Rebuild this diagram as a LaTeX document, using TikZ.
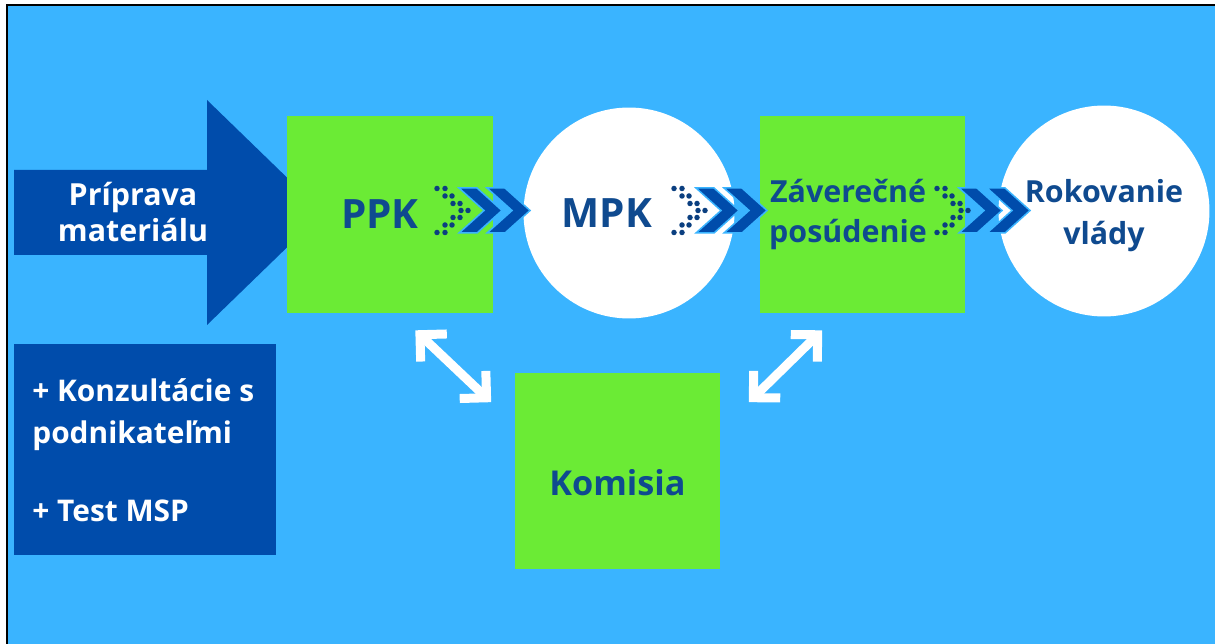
\documentclass[tikz,border=0pt]{standalone}
\usepackage{fontspec}
\setmainfont{Open Sans}
\usetikzlibrary{arrows.meta}
\definecolor{bgblue}{HTML}{3AB4FF}
\definecolor{dkblue}{HTML}{004CAB}
\definecolor{grn}{HTML}{6BEB35}
\definecolor{txtblue}{HTML}{0F4A8F}
\definecolor{dotblue}{HTML}{0B3F80}
\tikzset{
  gbox/.style={rectangle, fill=grn, minimum width=4.12cm, minimum height=3.94cm, inner sep=0pt},
  wcirc/.style={circle, fill=white, minimum size=4.22cm, inner sep=0pt},
  lbl/.style={text=txtblue, align=center, inner sep=0pt, font=\bfseries\fontsize{17.3}{22.5}\selectfont},
  biglbl/.style={lbl, font=\bfseries\fontsize{23}{28}\selectfont},
  wlbl/.style={text=white, inner sep=0pt, font=\bfseries\fontsize{17.3}{21}\selectfont},
  dbox/.style={rectangle, fill=dkblue, minimum width=5.24cm, minimum height=4.22cm, inner sep=0pt},
  chev/.style={fill=dkblue, draw=bgblue, line width=0.03cm},
  dblarrow/.style={{Straight Barb[length=0.38cm,width=0.76cm]}-{Straight Barb[length=0.38cm,width=0.76cm]}, white, line width=0.18cm}
}
\begin{document}
\begin{tikzpicture}[x=0.02cm,y=-0.02cm]
\useasboundingbox (0,0) rectangle (1215,644);
% background and frame
\fill[bgblue] (7,5) rectangle (1215,644);
\draw[line width=0.05cm] (7,644) -- (7,5) -- (1215,5);
% big input arrow
\fill[dkblue] (14,170) -- (207,170) -- (207,100) -- (323,212.5) -- (207,325) -- (207,255) -- (14,255) -- cycle;
\node [wlbl, align=center] (prep) at (133,212) {Príprava\\materiálu};
% stages
\node [gbox] (ppk) at (390,214.5) {};
\node [biglbl, xshift=-0.2cm] (ppkt) at (ppk) {PPK};
\node [wcirc] (mpk) at (629,213) {};
\node [biglbl, xshift=-0.44cm] (mpkt) at (mpk) {MPK};
\node [gbox] (zav) at (862.5,214.5) {};
\node [lbl, font=\bfseries\fontsize{17.3}{23}\selectfont, xshift=-0.29cm] (zavt) at (zav) {Záverečné\\posúdenie};
\node [wcirc] (vlada) at (1104,211) {};
\node [lbl, font=\bfseries\fontsize{17.3}{24}\selectfont, yshift=-0.1cm] (vladat) at (vlada) {Rokovanie\\vlády};
\node [gbox] (kom) at (617.5,471) {};
\node [lbl, font=\bfseries\fontsize{19.5}{24}\selectfont, yshift=-0.24cm] (komt) at (kom) {Komisia};
% consultations
\node [dbox] (kons) at (145,449.5) {};
\node [wlbl, align=left, anchor=north west, font=\bfseries\fontsize{17}{24}\selectfont] (konst) at (32,378) {+ Konzultácie s\\podnikateľmi\\[0.72cm]+ Test MSP};
% chevrons between stages
\foreach \gx in {435,672,935} {
  \foreach \dx/\dy in {2/-22,10/-22,10/-14.5,17/-14.5,18/-7,25/-7,26/0,33/0,18/7,25/7,10/14.5,17/14.5,2/22,10/22}
    \fill[dotblue] (\gx+\dx,210.5+\dy) circle (0.055cm);
  \foreach \cx in {24,52}
    \filldraw[chev] (\gx+\cx,188) -- ++(18,0) -- ++(25,22.5) -- ++(-25,22.5) -- ++(-18,0) -- ++(25,-22.5) -- cycle;
}
% links to the commission
\draw [dblarrow] ([shift={(-78,17)}] ppk.south east) -- ([shift={(-23,30)}] kom.north west);
\draw [dblarrow] ([shift={(63,17)}] zav.south west) -- ([shift={(28,30)}] kom.north east);
\end{tikzpicture}
\end{document}
